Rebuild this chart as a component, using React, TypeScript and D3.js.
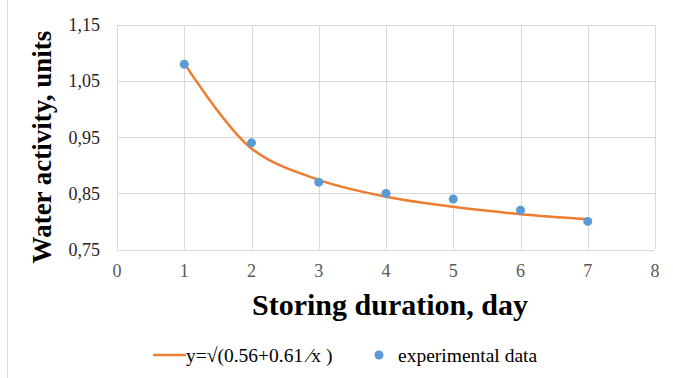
import React from "react";
import * as d3 from "d3";

const days = [1, 2, 3, 4, 5, 6, 7];
const experimental = [1.08, 0.94, 0.87, 0.85, 0.84, 0.82, 0.80];
const fitted = [1.082, 0.930, 0.874, 0.844, 0.826, 0.813, 0.804];
const xTicks = [0, 1, 2, 3, 4, 5, 6, 7, 8];
const yTicks = [0.75, 0.85, 0.95, 1.05, 1.15];
const xTitle = "Storing duration, day";
const yTitle = "Water activity, units";
const fitLabel = "y=\u221A(0.56+0.61 \u2044x )";
const dataLabel = "experimental data";

const W = 673;
const H = 378;
const FONT = "'Liberation Serif', 'Times New Roman', serif";

export default function App() {
  const x = d3.scaleLinear().domain([0, 8]).range([117, 655]);
  const y = d3.scaleLinear().domain([0.75, 1.15]).range([249.5, 25]);
  const line = d3
    .line<number>()
    .x((_, i) => x(days[i]))
    .y((d) => y(d))
    .curve(d3.curveCatmullRom.alpha(0.5));
  const fmt = (v: number) => v.toFixed(2).replace(".", ",");

  return (
    <svg
      width={W}
      height={H}
      style={{ position: "absolute", left: 0, top: 0, background: "#fff" }}
      fontFamily={FONT}
    >
      <rect x={0} y={0} width={W} height={H} fill="#fff" />
      <line x1={7.5} x2={7.5} y1={0} y2={H} stroke="#d9d9d9" strokeWidth={1} />
      {xTicks.map((t) => (
        <line
          key={"gx" + t}
          x1={Math.round(x(t)) + 0.5}
          x2={Math.round(x(t)) + 0.5}
          y1={y(1.15)}
          y2={y(0.75)}
          stroke="#d9d9d9"
          strokeWidth={1}
        />
      ))}
      {yTicks.map((t) => (
        <line
          key={"gy" + t}
          x1={x(0)}
          x2={x(8)}
          y1={Math.round(y(t)) + 0.5}
          y2={Math.round(y(t)) + 0.5}
          stroke="#d9d9d9"
          strokeWidth={1}
        />
      ))}
      {yTicks.map((t) => (
        <text
          key={"ty" + t}
          x={100}
          y={y(t)}
          dy="0.35em"
          textAnchor="end"
          fontSize={18}
          fill="#262626"
        >
          {fmt(t)}
        </text>
      ))}
      {xTicks.map((t) => (
        <text
          key={"tx" + t}
          x={x(t)}
          y={277}
          textAnchor="middle"
          fontSize={18}
          fill="#595959"
        >
          {t}
        </text>
      ))}
      <path
        d={line(fitted) || ""}
        fill="none"
        stroke="#ED7D31"
        strokeWidth={2.5}
        strokeLinecap="round"
      />
      {experimental.map((v, i) => (
        <circle key={"p" + i} cx={x(days[i])} cy={y(v)} r={4.5} fill="#5B9BD5" />
      ))}
      <text
        x={390}
        y={315}
        textAnchor="middle"
        fontSize={30}
        fontWeight="bold"
        fill="#000"
      >
        {xTitle}
      </text>
      <text
        transform={`translate(51,147) rotate(-90)`}
        textAnchor="middle"
        fontSize={27}
        fontWeight="bold"
        fill="#000"
      >
        {yTitle}
      </text>
      <line x1={153} x2={186} y1={355} y2={355} stroke="#ED7D31" strokeWidth={2.5} />
      <text x={186} y={362} fontSize={19.5} fill="#000">
        {fitLabel}
      </text>
      <circle cx={379} cy={355} r={4.5} fill="#5B9BD5" />
      <text x={398} y={362} fontSize={19.5} fill="#000">
        {dataLabel}
      </text>
    </svg>
  );
}
